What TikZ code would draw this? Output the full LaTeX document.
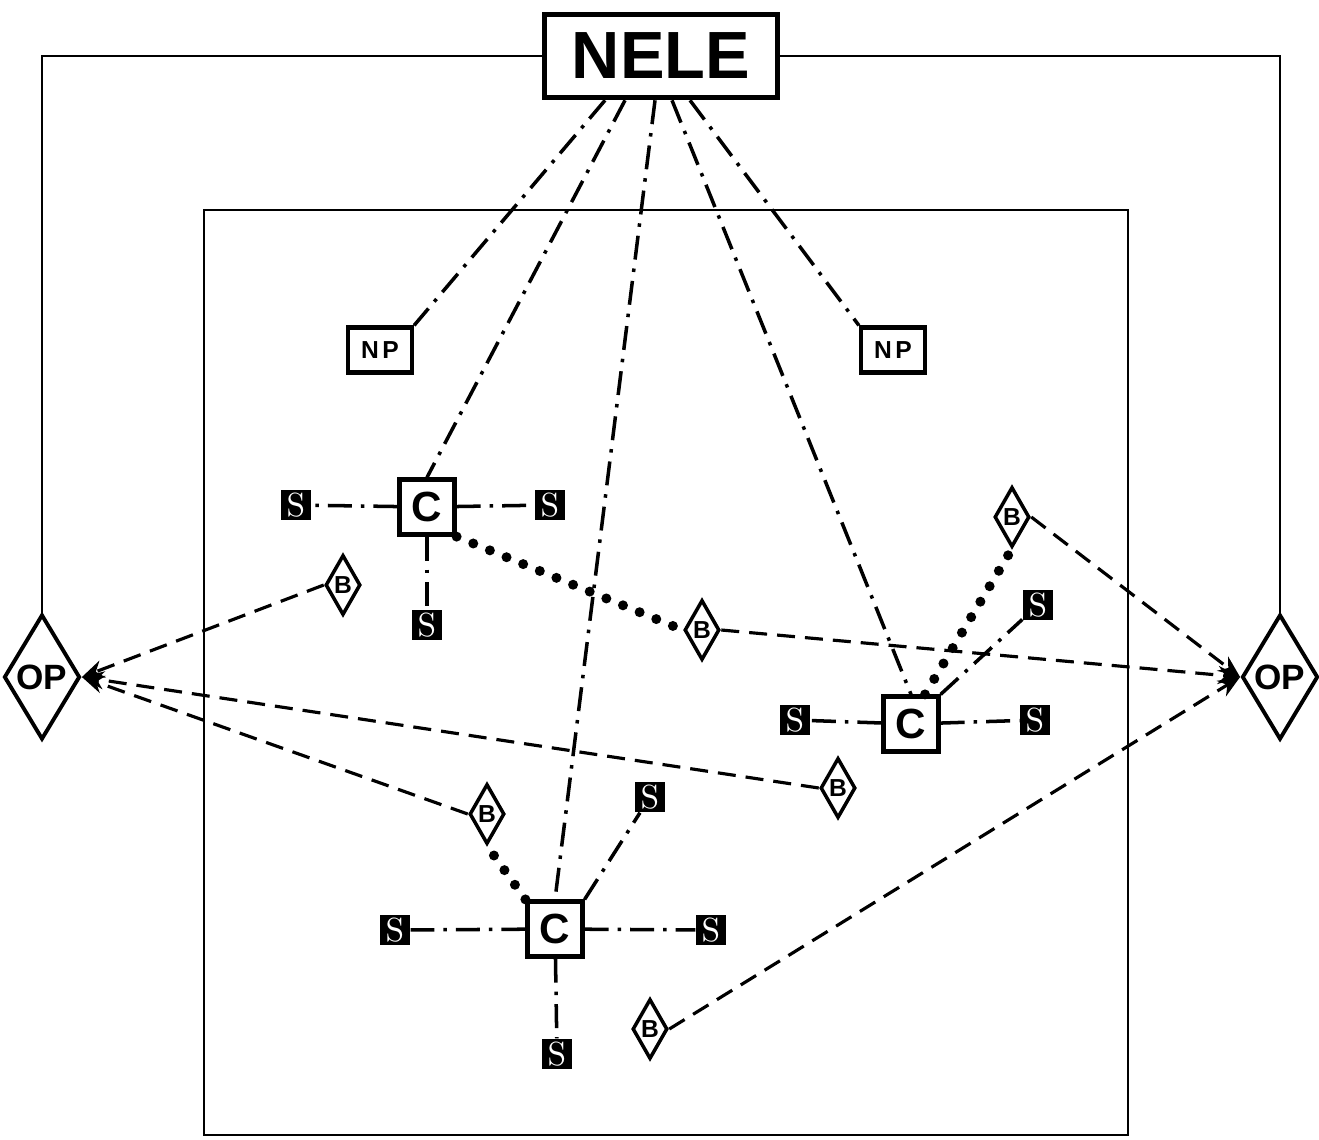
\documentclass[tikz,border=0pt]{standalone}
\usepackage{fontspec}
\setsansfont{Liberation Sans}
\usetikzlibrary{shapes.geometric,arrows.meta}

\begin{document}
\begin{tikzpicture}[x=0.1mm,y=-0.1mm,
  every node/.style={font=\sffamily\bfseries},
  box/.style={draw, line width=1.2pt, inner sep=0pt},
  sen/.style={fill=black, text=white, minimum size=3mm, inner sep=0pt, font=\rmfamily\fontsize{9.5}{9.5}\selectfont},
  ctr/.style={box, minimum size=5.5mm, font=\sffamily\bfseries\fontsize{12}{12}\selectfont},
  bdi/.style={draw, diamond, line width=1pt, minimum width=3.5mm, minimum height=6mm, inner sep=0pt, font=\sffamily\bfseries\fontsize{7}{7}\selectfont},
  opd/.style={draw, diamond, line width=1.1pt, minimum width=7.6mm, minimum height=12.5mm, inner sep=0pt, font=\sffamily\bfseries\fontsize{10}{10}\selectfont},
  link/.style={line width=1pt, dash pattern=on 2.4mm off 0.9mm on 0.35mm off 0.9mm},
  bus/.style={line width=0.9pt, dash pattern=on 1.8mm off 1mm, -{Stealth[length=2.2mm,width=1.8mm]}},
  pair/.style={line width=1mm, line cap=round, dash pattern=on 0pt off 1.8mm},
  frm/.style={line width=0.7pt}]
\useasboundingbox (0,0) rectangle (1319,1139);
\node[box, line width=1.6pt, minimum width=23.3mm, minimum height=8.3mm, font=\sffamily\bfseries\fontsize{19}{19}\selectfont] (nele) at (661,56) {NELE};
\node[box, minimum width=6.4mm, minimum height=4.5mm, font=\sffamily\bfseries\fontsize{7}{7}\selectfont] (npl) at (380,350) {N\kern1pt P};
\node[box, minimum width=6.4mm, minimum height=4.5mm, font=\sffamily\bfseries\fontsize{7}{7}\selectfont] (npr) at (893,350) {N\kern1pt P};
\node[opd] (opl) at (42,677) {OP};
\node[opd] (opr) at (1280,677) {OP};
\node[ctr] (c1) at (427,507) {C};
\node[ctr] (c2) at (911,724) {C};
\node[ctr] (c3) at (555,929) {C};
\node[sen] (s1a) at (296,505) {S};
\node[sen] (s1b) at (550,505) {S};
\node[sen] (s1c) at (427,625) {S};
\node[sen] (s2a) at (795,720) {S};
\node[sen] (s2b) at (1035,720) {S};
\node[sen] (s2c) at (1038,605) {S};
\node[sen] (s3a) at (395,930) {S};
\node[sen] (s3b) at (711,930) {S};
\node[sen] (s3c) at (650,797) {S};
\node[sen] (s3d) at (557,1054) {S};
\node[bdi] (b1) at (343,585) {B};
\node[bdi] (b2) at (702,630) {B};
\node[bdi] (b3) at (1012,517) {B};
\node[bdi] (b4) at (838,788) {B};
\node[bdi] (b5) at (487,814) {B};
\node[bdi] (b6) at (650,1029) {B};
% frame
\draw[frm] (nele.west) -| (opl.north);
\draw[frm] (nele.east) -| (opr.north);
\draw[frm] (204,210) rectangle (1128,1135);
% NELE links
\draw[link] ([xshift=-5.6mm]nele.south) -- (npl.north east);
\draw[link] ([xshift=-3.6mm]nele.south) -- (c1.north);
\draw[link] ([xshift=-0.6mm]nele.south) -- (c3.north);
\draw[link] ([xshift=1.1mm]nele.south) -- (c2.north);
\draw[link] ([xshift=2.9mm]nele.south) -- (npr.north west);
% sensors
\foreach \s in {s1a,s1b,s1c} \draw[link] (c1) -- (\s);
\foreach \s in {s2a,s2b} \draw[link] (c2) -- (\s);
\draw[link] (c2.north east) -- (s2c);
\foreach \s in {s3a,s3b,s3d} \draw[link] (c3) -- (\s);
\draw[link] (c3.north east) -- (s3c);
% pairings
\draw[pair] (c1.south east) -- (b2.west);
\draw[pair] ([xshift=1.4mm]c2.north) -- (b3.south);
\draw[pair] (c3.north west) -- (b5.south);
% to OP
\foreach \b in {b1,b4,b5} \draw[bus] (\b.west) -- (opl.east);
\foreach \b in {b2,b3,b6} \draw[bus] (\b.east) -- (opr.west);
\end{tikzpicture}
\end{document}
